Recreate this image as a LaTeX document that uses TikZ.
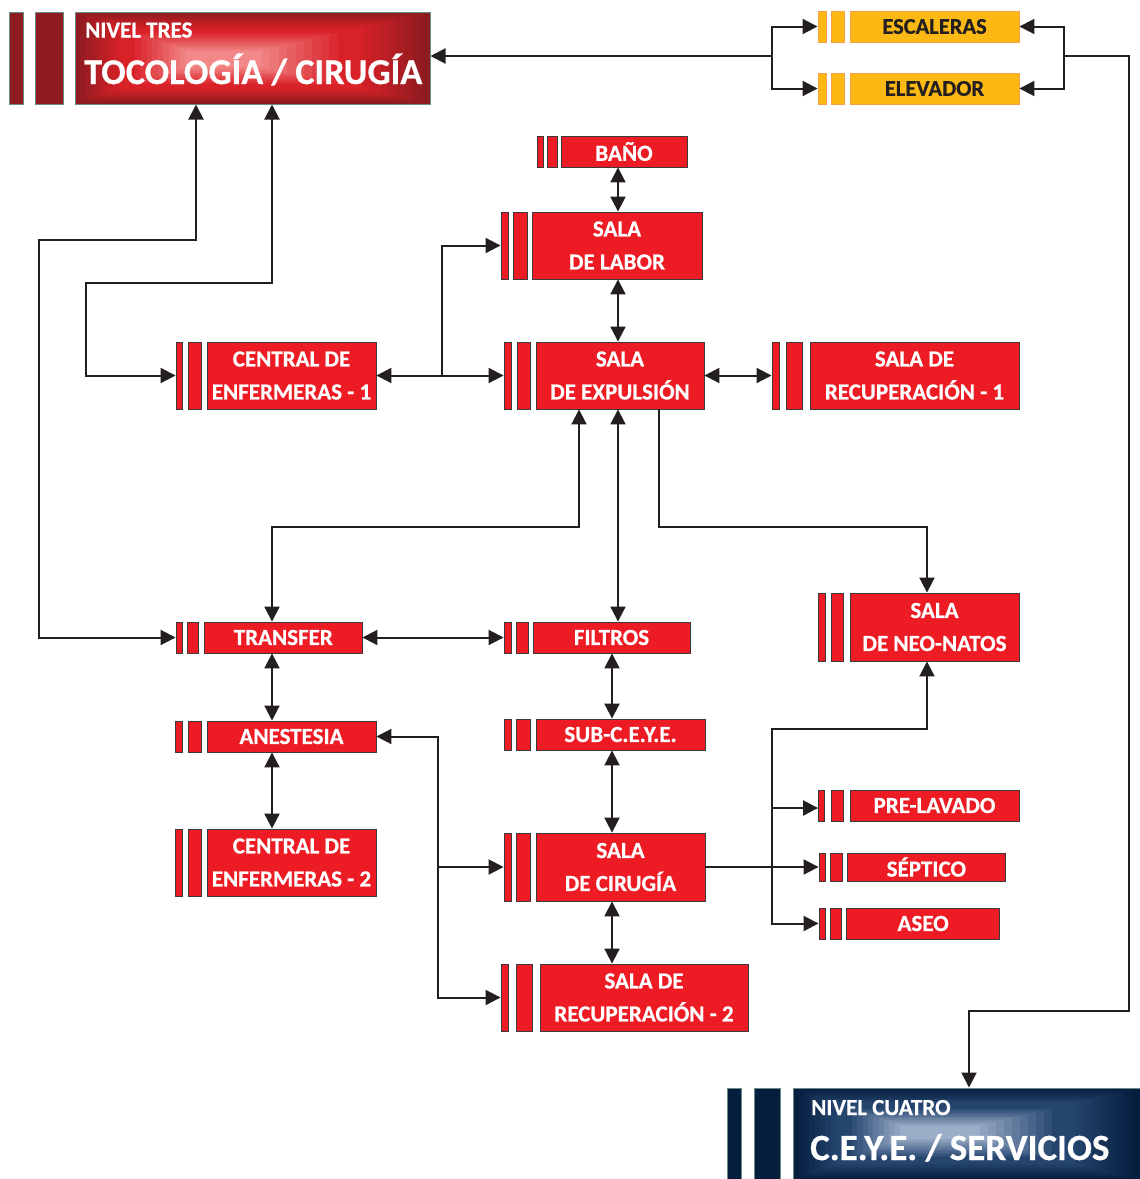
\documentclass[tikz,border=0pt]{standalone}
\usepackage{fontspec}
\setmainfont{Carlito}[BoldFeatures={FakeBold=0.6}]
\usetikzlibrary{arrows.meta,calc}
\definecolor{bred}{HTML}{ED1C24}
\definecolor{boxline}{HTML}{3A3A3A}
\definecolor{byel}{HTML}{FDB913}
\definecolor{byelline}{HTML}{F6A04D}
\definecolor{ytext}{HTML}{231F20}
\definecolor{lk}{HTML}{231F20}
\definecolor{hrout}{HTML}{8E1B20}
\definecolor{hrmid}{HTML}{D92128}
\definecolor{hrin}{HTML}{F28888}
\definecolor{hline}{HTML}{6B8A84}
\definecolor{nvout}{HTML}{051E3E}
\definecolor{nvmid}{HTML}{25456F}
\definecolor{nvin}{HTML}{9AAEC8}
\tikzset{
  mbox/.style={draw=boxline, line width=0.9pt, inner sep=0pt, align=center, text=white,
    font=\fontsize{23}{33}\selectfont\bfseries},
  sidebar/.style={draw=boxline, line width=0.9pt, inner sep=0pt},
  redunit/.style={fill=bred},
  yelunit/.style={fill=byel, draw=byelline, text=ytext, font=\fontsize{22.5}{24}\selectfont\bfseries},
  cur/.style={redunit},
  link/.style={draw=lk, line width=2pt},
  arr/.style={link, -{Triangle[length=15pt,width=15pt]}},
  arrs/.style={link, {Triangle[length=15pt,width=15pt]}-{Triangle[length=15pt,width=15pt]}},
  hdrbox/.style={draw=hline, line width=1pt, inner sep=0pt},
  htext/.style={text=white, inner sep=0pt, anchor=base west},
}
% #1 name, #2 bar1 left, #3 bar1 width, #4 gap, #5 main left, #6 main right, #7 top, #8 bottom, #9 text
\newcommand\unitbox[9]{%
  \node[sidebar, cur, minimum width={#3*1pt}, minimum height={(#8-#7)*1pt}] (#1-b1) at ({#2+#3/2},{(#7+#8)/2}) {};
  \node[sidebar, cur, minimum width={(#5-#4-#2-#3-#4)*1pt}, minimum height={(#8-#7)*1pt}] (#1-b2) at ({(#2+#3+#5)/2},{(#7+#8)/2}) {};
  \node[mbox, cur, minimum width={(#6-#5)*1pt}, minimum height={(#8-#7)*1pt}] (#1) at ({(#5+#6)/2},{(#7+#8)/2}) {#9};
}
\begin{document}
\begin{tikzpicture}[x=1pt,y=-1pt]
\useasboundingbox (0,0) rectangle (1140,1179);
\fill[white] (0,0) rectangle (1140,1179);

% ---------- header NIVEL TRES ----------
\node[hdrbox, fill=hrout, minimum width=14pt, minimum height=92pt] (tocob1) at (16,58) {};
\node[hdrbox, fill=hrout, minimum width=28pt, minimum height=92pt] (tocob2) at (49,58) {};
\foreach \i in {0,...,20}{
  \pgfmathsetmacro\t{\i/20}
  \pgfmathsetmacro\pa{min(100,250*\t)}
  \pgfmathsetmacro\pb{max(0,200*\t-100)}
  \colorlet{cA}{hrmid!\pa!hrout}
  \colorlet{cB}{hrin!\pb!cA}
  \fill[cB] ({75+\t*(185-75)},{12+\t*(51-12)}) rectangle ({430-\t*(430-262)},{104-\t*(104-67)});
}
\node[hdrbox, minimum width=355pt, minimum height=92pt] (toco) at (252.5,58) {};
\node[htext, font=\fontsize{23}{23}\selectfont\bfseries] (tocoA) at (85,37.5) {NIVEL TRES};
\node[htext, font=\fontsize{36.3}{36}\selectfont\bfseries] (tocoB) at (84,84) {TOCOLOGÍA / CIRUGÍA};

% ---------- header NIVEL CUATRO ----------
\node[hdrbox, fill=nvout, minimum width=14pt, minimum height=92pt] (ceyeb1) at (734,1134) {};
\node[hdrbox, fill=nvout, minimum width=26pt, minimum height=92pt] (ceyeb2) at (767,1134) {};
\foreach \i in {0,...,20}{
  \pgfmathsetmacro\t{\i/20}
  \pgfmathsetmacro\pa{min(100,250*\t)}
  \pgfmathsetmacro\pb{max(0,200*\t-100)}
  \colorlet{cA}{nvmid!\pa!nvout}
  \colorlet{cB}{nvin!\pb!cA}
  \fill[cB] ({793+\t*(900-793)},{1088+\t*(1126-1088)}) rectangle ({1140-\t*(1140-980)},{1180-\t*(1180-1139)});
}
\node[hdrbox, minimum width=347pt, minimum height=92pt] (cuatro) at (966.5,1134) {};
\node[htext, font=\fontsize{23}{23}\selectfont\bfseries] (ceyeA) at (811,1115) {NIVEL CUATRO};
\node[htext, font=\fontsize{37}{37}\selectfont\bfseries] (ceyeB) at (810,1160) {C.E.Y.E. / SERVICIOS};

% ---------- yellow units ----------
\begin{scope}[cur/.style={yelunit}]
\unitbox{esc}{818}{8}{5.5}{850}{1019}{11}{42}{ESCALERAS}
\unitbox{elev}{818}{8}{5.5}{850}{1019}{73}{104}{ELEVADOR}
\end{scope}

% ---------- red units ----------
\unitbox{bano}{537}{6}{4}{561}{687}{136}{167}{BAÑO}
\unitbox{labor}{501}{7}{5}{532}{702}{212}{279}{SALA\\DE LABOR}
\unitbox{c1}{176}{6}{6}{207}{376}{342}{409}{CENTRAL DE\\ENFERMERAS - 1}
\unitbox{exp}{504}{7}{6}{536}{704}{342}{409}{SALA\\DE EXPULSIÓN}
\unitbox{rec1}{772}{7}{7.5}{810}{1019}{342}{409}{SALA DE\\RECUPERACIÓN - 1}
\unitbox{neo}{818}{7}{6.5}{850}{1019}{593}{661}{SALA\\DE NEO-NATOS}
\unitbox{transfer}{176}{6}{5.7}{204.6}{362}{622}{653}{TRANSFER}
\unitbox{filtros}{504}{7}{5}{533}{690}{622}{653}{FILTROS}
\unitbox{anest}{175}{7}{6}{207}{376}{721}{752}{ANESTESIA}
\unitbox{c2}{175}{7}{6}{207}{376}{829}{896}{CENTRAL DE\\ENFERMERAS - 2}
\unitbox{sub}{504}{7}{5.5}{536}{705}{719}{750}{SUB-C.E.Y.E.}
\unitbox{cir}{504}{7}{5.5}{536}{705}{833}{901}{SALA\\DE CIRUGÍA}
\unitbox{rec2}{501}{7.5}{7.5}{540}{748}{964}{1031}{SALA DE\\RECUPERACIÓN - 2}
\unitbox{prelav}{818.5}{6}{6.5}{850}{1019}{790}{821}{PRE-LAVADO}
\unitbox{sept}{819}{6}{5.6}{847.7}{1005}{853}{881}{SÉPTICO}
\unitbox{aseo}{819}{6}{5}{846.7}{999.5}{908}{939}{ASEO}

% ---------- connectors ----------
\coordinate (jL) at (772,56);
\coordinate (jR) at (1064,56);
\draw[arr] (jL) -- (toco.east |- jL);
\draw[arr] (jL) |- (esc-b1.west);
\draw[arr] (jL) |- (elev-b1.west);
\draw[arr] (jR) |- (esc.east);
\draw[arr] (jR) |- (elev.east);
\coordinate (rTop) at (1129,56);
\coordinate (rBot) at (1129,1011);
\coordinate (cBend) at (969,1011);
\draw[arr] (jR) -- (rTop) -- (rBot) -- (cBend) -- (cuatro.north -| cBend);

\coordinate (t1) at (196,240);
\coordinate (t1b) at (39,240);
\draw[arrs] (toco.south -| t1) -- (t1) -- (t1b) |- (transfer-b1.west);
\coordinate (t2) at (272,283);
\coordinate (t2b) at (86,283);
\draw[arrs] (toco.south -| t2) -- (t2) -- (t2b) |- (c1-b1.west);

\coordinate (xA) at (618,0);
\draw[arrs] (bano.south -| xA) -- (labor.north -| xA);
\draw[arrs] (labor.south -| xA) -- (exp.north -| xA);
\draw[arrs] (exp.south -| xA) -- (filtros.north -| xA);
\draw[arrs] (c1.east) -- (exp-b1.west);
\coordinate (jC) at (442,375.5);
\draw[arr] (jC) |- (labor-b1.west);
\draw[arrs] (exp.east) -- (rec1-b1.west);
\coordinate (e1) at (579,526.5);
\coordinate (e1b) at (272,526.5);
\draw[arrs] (exp.south -| e1) -- (e1) -- (e1b) -- (transfer.north -| e1b);
\coordinate (e2) at (659,527);
\coordinate (e2b) at (927,527);
\draw[arr] (exp.south -| e2) -- (e2) -- (e2b) -- (neo.north -| e2b);

\draw[arrs] (transfer.east) -- (filtros-b1.west);
\coordinate (xC) at (272,0);
\draw[arrs] (transfer.south -| xC) -- (anest.north -| xC);
\draw[arrs] (anest.south -| xC) -- (c2.north -| xC);
\coordinate (xB) at (612,0);
\draw[arrs] (filtros.south -| xB) -- (sub.north -| xB);
\draw[arrs] (sub.south -| xB) -- (cir.north -| xB);
\draw[arrs] (cir.south -| xB) -- (rec2.north -| xB);

\coordinate (jA) at (438,867);
\draw[arr] (jA) |- (anest.east);
\draw[arr] (jA) -- (cir-b1.west);
\draw[arr] (jA) |- (rec2-b1.west);

\draw[arr] (cir.east) -- (sept-b1.west);
\coordinate (jS) at (772,867);
\coordinate (pl) at (772,808);
\coordinate (n1) at (772,729);
\coordinate (n1b) at (927,729);
\draw[arr] (jS) -- (pl) -- (prelav-b1.west |- pl);
\draw[arr] (jS) |- (aseo-b1.west);
\draw[arr] (jS) -- (n1) -- (n1b) -- (neo.south -| n1b);
\end{tikzpicture}
\end{document}
